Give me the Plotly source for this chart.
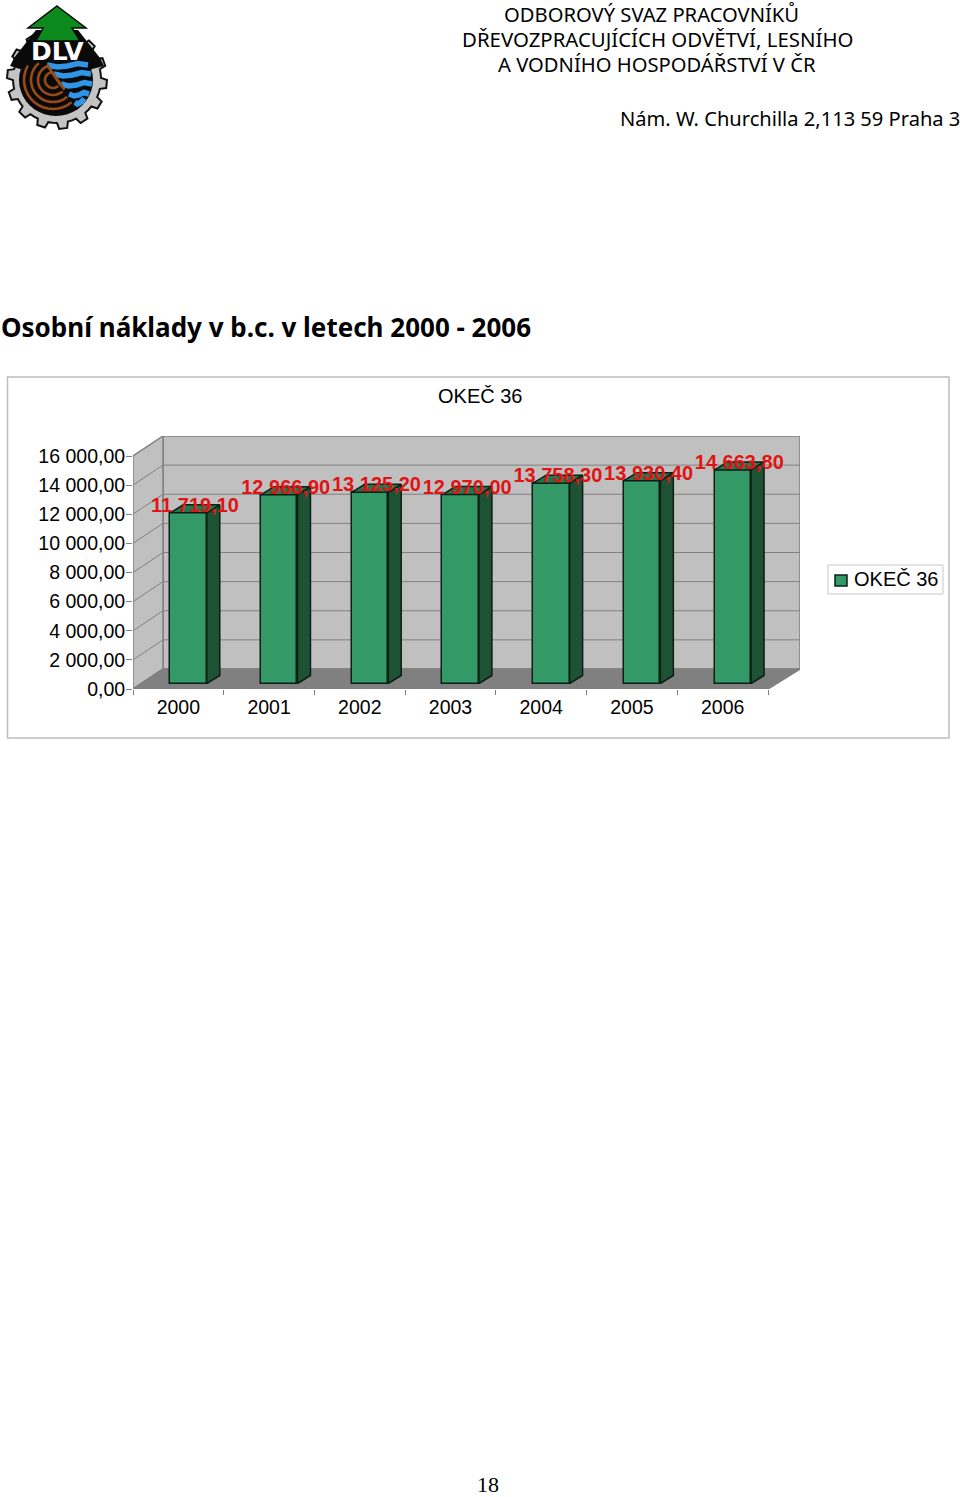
"""Osobní náklady v b.c. v letech 2000 - 2006, page from the DLV union report."""
import math
import plotly.graph_objects as go

YEARS = ["2000", "2001", "2002", "2003", "2004", "2005", "2006"]
VALUES = [11719.10, 12966.90, 13125.20, 12970.00, 13758.30, 13930.40, 14663.80]
VALUE_LABELS = ["11 719,10", "12 966,90", "13 125,20", "12 970,00", "13 758,30", "13 930,40", "14 663,80"]
Y_TICKS = [0, 2000, 4000, 6000, 8000, 10000, 12000, 14000, 16000]
Y_TICK_LABELS = ["0,00", "2 000,00", "4 000,00", "6 000,00", "8 000,00", "10 000,00", "12 000,00", "14 000,00", "16 000,00"]
SERIES_NAME = "OKEČ 36"

W, H = 960, 1497
CHART_FONT = "Liberation Sans"
HEAD_FONT = "Noto Sans"


def px(x):
    return x / W


def py(y):
    return 1 - y / H


def poly(points, closed=True):
    path = "M" + " L".join(f"{px(x):.5f},{py(y):.5f}" for x, y in points)
    return path + (" Z" if closed else "")


def logo_shapes():
    """The DLV logo, in page pixels."""
    out = []

    def add(points, fill=None, line=None, width=0, closed=True):
        out.append(dict(type="path", xref="paper", yref="paper", path=poly(points, closed),
                        fillcolor=fill if fill else "rgba(0,0,0,0)",
                        line=dict(color=line if line else "rgba(0,0,0,0)", width=width)))

    # gear
    cx, cy = 57, 79
    step = 2 * math.pi / 14
    gear = []
    for i in range(14):
        a = i * step + 0.1
        for off, r in [(-0.5, 44), (-0.28, 44), (-0.18, 50), (0.18, 50), (0.28, 44)]:
            gear.append((cx + r * math.cos(a + off * step), cy + r * math.sin(a + off * step)))
    add(gear, fill="#c4c4c4", line="#111111", width=2)
    # black body under the tree
    add([(36, 30), (78, 30), (100, 58), (104, 66), (80, 72), (30, 72), (10, 66), (14, 58)], fill="#0a0a0a")
    disc = [(56 + 37 * math.cos(i / 40 * 2 * math.pi), 80 + 36 * math.sin(i / 40 * 2 * math.pi)) for i in range(40)]
    add(disc, fill="#0a0a0a")
    # tree
    add([(57, 6), (86, 28), (72, 28), (80, 41), (36, 41), (43, 28), (28, 28)],
        fill="#0d8a1e", line="#0a0a0a", width=1.5)
    # water
    for y, x0, x1 in [(65, 47, 88), (74, 54, 91), (84, 61, 92), (94, 69, 89), (102, 75, 85)]:
        mid = (x0 + x1) / 2
        add([(x0, y), ((x0 + mid) / 2, y + 2), (mid, y + 1), ((mid + x1) / 2, y - 1.5), (x1, y)],
            line="#2f95e6", width=5.5, closed=False)
    # log rings, cut along the diagonal of the log
    for r in [29, 22, 15, 8]:
        arc = []
        for k in range(37):
            a = math.radians(k * 10)
            x, y = 53 + r * math.cos(a), 80 + r * math.sin(a)
            if y >= 62 and y >= 62 + (x - 45) * 43 / 32:
                arc.append((x, y))
        arc.sort(key=lambda p: (math.atan2(p[1] - 80, p[0] - 53) - 0.7) % (2 * math.pi))
        add(arc, line="#9a4a16", width=2.6, closed=False)
    return out


# plot area in page pixels: the front plane runs x 133-768, y 689-456
UNIT_X = 635 / 7
UNIT_Y = 233 / 16000
WALL_DX = 30 / UNIT_X
WALL_DY = 20 / UNIT_Y
X_MAX = 667 / UNIT_X
Y_MAX = 16000 + WALL_DY

BAR_X = [i + 0.612 for i in range(len(YEARS))]
BAR_W = 36.5 / UNIT_X
BAR_BASE = 5.5 / UNIT_Y
DEPTH_X = 13 / UNIT_X
DEPTH_Y = 8 / UNIT_Y

GRAY = "#808080"
BAR_COLOR = "#339966"
EDGE_COLOR = "#0b1f14"


def page_rect(x0, y0, x1, y1, line, width, fill="rgba(0,0,0,0)"):
    return dict(type="rect", xref="paper", yref="paper", x0=px(x0), x1=px(x1), y0=py(y1), y1=py(y0),
                line=dict(color=line, width=width), fillcolor=fill, layer="below")


def wall(points, fill):
    path = "M" + " L".join(f"{x:.4f},{y:.2f}" for x, y in points) + " Z"
    return dict(type="path", xref="x", yref="y", path=path, fillcolor=fill,
                line=dict(color=GRAY, width=1.5), layer="below")


shapes = [page_rect(7.5, 377, 949, 738, "#bdbdbd", 1.5)]
shapes.append(wall([(WALL_DX, WALL_DY), (X_MAX, WALL_DY), (X_MAX, Y_MAX), (WALL_DX, Y_MAX)], "#c0c0c0"))
shapes.append(wall([(0, 0), (0, 16000), (WALL_DX, Y_MAX), (WALL_DX, WALL_DY)], "#c0c0c0"))
for v in Y_TICKS[1:-1]:
    shapes.append(dict(type="line", xref="x", yref="y", x0=0, y0=v, x1=WALL_DX, y1=v + WALL_DY,
                       line=dict(color=GRAY, width=1), layer="below"))
    shapes.append(dict(type="line", xref="x", yref="y", x0=WALL_DX, y0=v + WALL_DY, x1=X_MAX, y1=v + WALL_DY,
                       line=dict(color=GRAY, width=1), layer="below"))
shapes.append(wall([(0, 0), (WALL_DX, WALL_DY), (X_MAX, WALL_DY), (7, 0)], GRAY))
# legend box
shapes.append(page_rect(828, 565, 943, 594, "#c8c8c8", 1))
shapes.append(page_rect(835, 575, 847, 586, EDGE_COLOR, 1.5, BAR_COLOR))
shapes += logo_shapes()

fig = go.Figure()
fig.add_trace(go.Bar(
    x=BAR_X, y=VALUES, base=BAR_BASE, width=BAR_W, name=SERIES_NAME,
    marker=dict(color=BAR_COLOR, line=dict(color=EDGE_COLOR, width=1.5)),
    hovertemplate="%{customdata}<extra></extra>", customdata=VALUE_LABELS,
))

side_x, side_y, top_x, top_y = [], [], [], []
for c, v in zip(BAR_X, VALUES):
    left, right, top = c - BAR_W / 2, c + BAR_W / 2, BAR_BASE + v
    side_x += [right, right + DEPTH_X, right + DEPTH_X, right, right, None]
    side_y += [BAR_BASE, BAR_BASE + DEPTH_Y, top + DEPTH_Y, top, BAR_BASE, None]
    top_x += [left, left + DEPTH_X, right + DEPTH_X, right, left, None]
    top_y += [top, top + DEPTH_Y, top + DEPTH_Y, top, top, None]
edge = dict(color=EDGE_COLOR, width=1.5)
fig.add_trace(go.Scatter(x=side_x, y=side_y, fill="toself", fillcolor="#1d5235", mode="lines", line=edge,
                         hoverinfo="skip"))
fig.add_trace(go.Scatter(x=top_x, y=top_y, fill="toself", fillcolor="#27734c", mode="lines", line=edge,
                         hoverinfo="skip"))
fig.add_trace(go.Scatter(
    x=[c + 6.5 / UNIT_X for c in BAR_X],
    y=[BAR_BASE + v + 6 / UNIT_Y for v in VALUES],
    text=VALUE_LABELS, mode="text", textposition="middle center", cliponaxis=False,
    textfont=dict(family=CHART_FONT, size=20, color="#e01414", weight="bold"),
    hoverinfo="skip",
))


def note(text, x, y, size, anchor="center", family=HEAD_FONT, weight="normal", color="#000000"):
    return dict(text=text, x=px(x), y=py(y), xref="paper", yref="paper", xanchor=anchor, yanchor="middle",
                showarrow=False, align=anchor, borderpad=0,
                font=dict(family=family, size=size, color=color, weight=weight))


annotations = [
    note("ODBOROVÝ SVAZ PRACOVNÍKŮ", 651, 14, 20.2),
    note("DŘEVOZPRACUJÍCÍCH ODVĚTVÍ, LESNÍHO", 657, 39, 20.4),
    note("A VODNÍHO HOSPODÁŘSTVÍ V ČR", 657, 64, 20.2),
    note("Nám. W. Churchilla 2,113 59 Praha 3", 960.5, 118, 20.1, anchor="right"),
    note("Osobní náklady v b.c. v letech 2000 - 2006", 0, 327, 26, anchor="left", weight="bold"),
    note(SERIES_NAME, 480, 396, 20, family=CHART_FONT),
    note(SERIES_NAME, 853, 579, 20, anchor="left", family=CHART_FONT),
    note("18", 488, 1484, 22, family="Liberation Serif"),
    note("DLV", 57, 51, 25, family="DejaVu Sans", weight="bold", color="#ffffff"),
]

fig.update_layout(
    width=W, height=H,
    margin=dict(l=0, r=0, t=0, b=0),
    paper_bgcolor="#ffffff", plot_bgcolor="rgba(0,0,0,0)",
    shapes=shapes,
    annotations=annotations,
    xaxis=dict(
        domain=[px(133), px(800)], range=[0, X_MAX], showgrid=False, zeroline=False, showline=False,
        automargin=False,
        tickmode="array", tickvals=[i + 0.5 for i in range(len(YEARS))], ticktext=YEARS,
        ticks="", ticklabelstandoff=4,
        tickfont=dict(family=CHART_FONT, size=19.5, color="#000000"),
        minor=dict(tickmode="array", tickvals=list(range(len(YEARS) + 1)), ticks="outside", ticklen=5,
                   tickcolor=GRAY, tickwidth=1),
    ),
    yaxis=dict(
        domain=[py(689), py(436)], range=[0, Y_MAX], showgrid=False, zeroline=False, showline=False,
        automargin=False,
        tickmode="array", tickvals=Y_TICKS, ticktext=Y_TICK_LABELS,
        ticks="outside", ticklen=6, tickcolor=GRAY, tickwidth=1, ticklabelstandoff=-3,
        tickfont=dict(family=CHART_FONT, size=19.5, color="#000000"),
    ),
    showlegend=False,
    bargap=0,
)

fig.write_html("out.html", config=dict(displayModeBar=False), post_script="document.body.style.margin='0';")
